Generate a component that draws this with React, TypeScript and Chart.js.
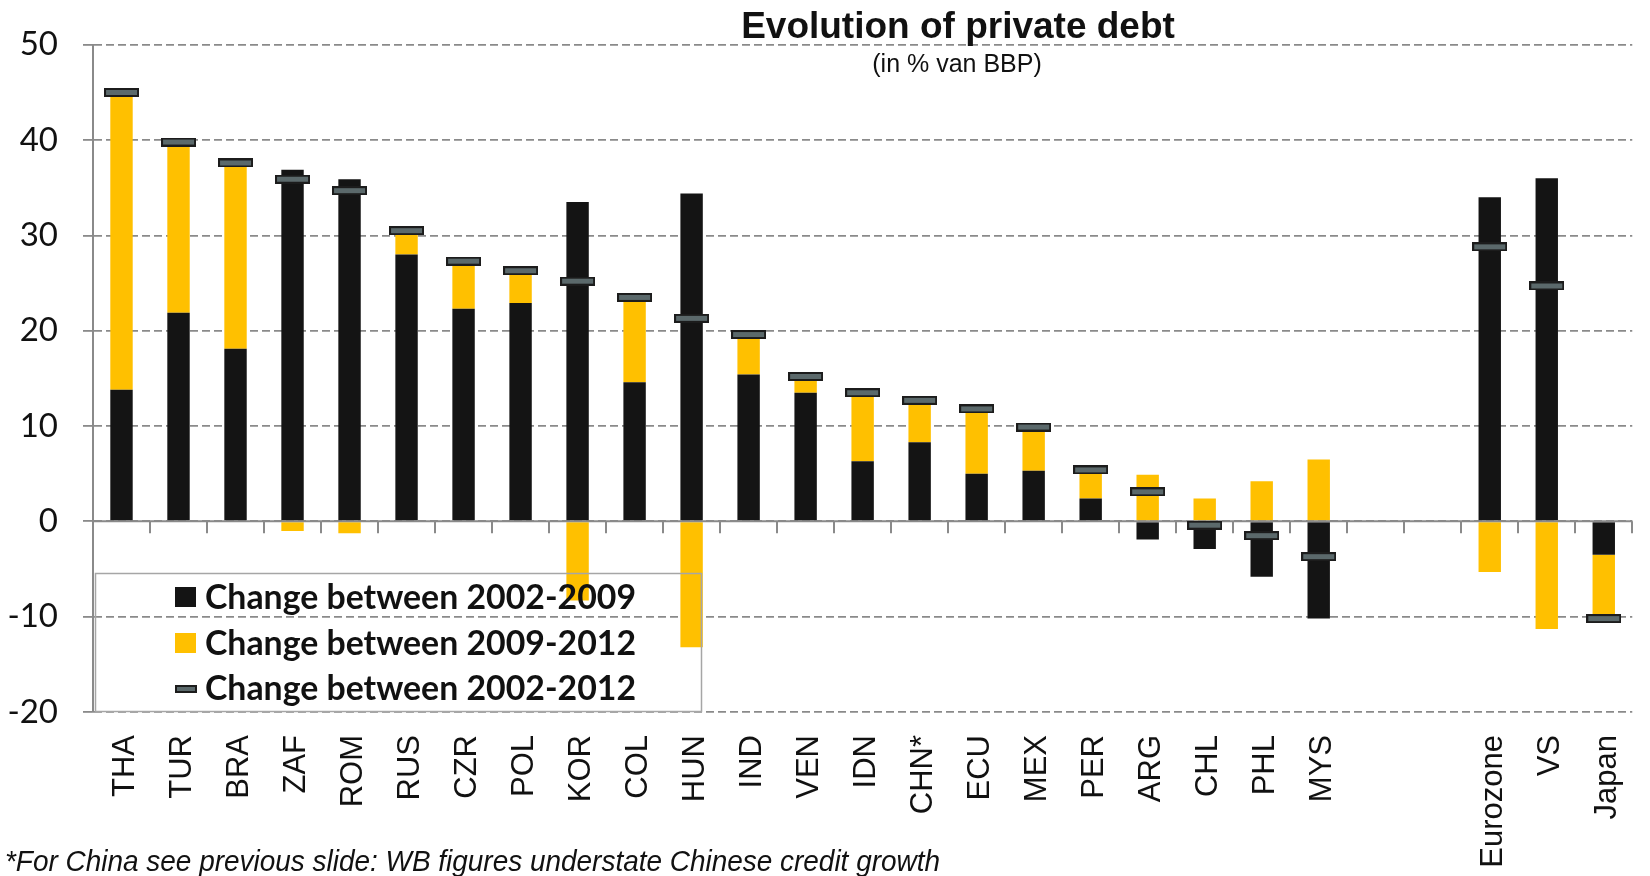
import React, { useEffect, useRef } from 'react';
import { Chart, registerables } from 'chart.js';

Chart.register(...registerables);

// ---------- data ----------
const categories = [
  'THA', 'TUR', 'BRA', 'ZAF', 'ROM', 'RUS', 'CZR', 'POL', 'KOR', 'COL', 'HUN',
  'IND', 'VEN', 'IDN', 'CHN*', 'ECU', 'MEX', 'PER', 'ARG', 'CHL', 'PHL', 'MYS',
  '', ' ', 'Eurozone', 'VS', 'Japan',
];

const change2002to2009 = [
  13.8, 21.9, 18.1, 36.9, 35.9, 28.0, 22.3, 22.9, 33.5, 14.6, 34.4,
  15.4, 13.5, 6.3, 8.3, 5.0, 5.3, 2.4, -1.9, -2.9, -5.8, -10.2,
  null, null, 34.0, 36.0, -3.5,
];

const change2009to2012 = [
  31.0, 17.9, 19.5, -1.0, -1.25, 2.5, 5.0, 3.4, -8.3, 8.9, -13.2,
  4.2, 1.7, 7.2, 4.4, 6.8, 4.6, 3.0, 4.9, 2.4, 4.2, 6.5,
  null, null, -5.3, -11.3, -6.6,
];

const change2002to2012 = [
  45.0, 39.8, 37.6, 35.9, 34.7, 30.5, 27.3, 26.3, 25.2, 23.5, 21.3,
  19.6, 15.2, 13.5, 12.7, 11.8, 9.9, 5.4, 3.1, -0.4, -1.5, -3.7,
  null, null, 28.8, 24.7, -10.2,
];

const yMin = -20;
const yMax = 50;
const yStep = 10;

const seriesLabels = [
  'Change between 2002-2009',
  'Change between 2009-2012',
  'Change between 2002-2012',
];

const titleText = 'Evolution of private debt';
const subtitleText = '(in % van BBP)';
const footnoteText = '*For China see previous slide: WB figures understate Chinese credit growth';

// ---------- styles ----------
const BLACK = '#141414';
const YELLOW = '#FFC000';
const MARK_FILL = '#5b696b';
const MARK_EDGE = '#1c1c1c';
const GRID = '#8a8a8a';
const TEXT = '#111111';
const SANS = '"Liberation Sans", Arial, sans-serif';
const CAL = 'Lato, "Liberation Sans", sans-serif';

function makeMarker(w: number, h: number): HTMLCanvasElement {
  const c = document.createElement('canvas');
  c.width = w;
  c.height = h;
  const g = c.getContext('2d')!;
  g.fillStyle = MARK_EDGE;
  g.fillRect(0, 0, w, h);
  g.fillStyle = MARK_FILL;
  g.fillRect(2, 2, w - 4, h - 4);
  return c;
}

const decorPlugin = {
  id: 'decor',
  beforeDatasetDraw(chart: any, args: any) {
    if (args.meta.type !== 'line') return;
    const { ctx, chartArea, scales } = chart;
    const x = scales.x;
    const y0 = scales.y.getPixelForValue(0);
    const half = (x.getPixelForValue(1) - x.getPixelForValue(0)) / 2;
    ctx.save();
    ctx.strokeStyle = GRID;
    ctx.lineWidth = 2;
    ctx.beginPath();
    ctx.moveTo(chartArea.left, y0);
    ctx.lineTo(chartArea.right, y0);
    for (let i = 0; i <= categories.length; i++) {
      const px = Math.round(x.getPixelForValue(0) - half + i * 2 * half);
      ctx.moveTo(px, y0);
      ctx.lineTo(px, y0 + 12);
    }
    ctx.stroke();
    ctx.restore();
  },
  afterDraw(chart: any) {
    const { ctx } = chart;
    ctx.save();
    // title + subtitle
    ctx.fillStyle = TEXT;
    ctx.textAlign = 'center';
    ctx.textBaseline = 'alphabetic';
    ctx.font = `bold 37px ${SANS}`;
    ctx.fillText(titleText, 958, 38);
    ctx.font = `25px ${SANS}`;
    ctx.fillText(subtitleText, 957, 72);

    // legend box
    ctx.strokeStyle = '#a6a6a6';
    ctx.lineWidth = 1.5;
    ctx.strokeRect(95.5, 573.5, 606, 138);
    const baselines = [608.5, 655, 700];
    ctx.fillStyle = BLACK;
    ctx.fillRect(175, 587, 21, 20);
    ctx.fillStyle = YELLOW;
    ctx.fillRect(175, 633, 21, 20);
    const mk = makeMarker(22, 8);
    ctx.drawImage(mk, 175, 685);
    ctx.fillStyle = TEXT;
    ctx.textAlign = 'left';
    ctx.font = `bold 34px ${CAL}`;
    seriesLabels.forEach((t, i) => {
      ctx.fillText(t, 205, baselines[i], 431);
    });

    // footnote
    ctx.font = `italic 30px ${SANS}`;
    ctx.fillStyle = TEXT;
    ctx.fillText(footnoteText, 5, 871, 935);
    ctx.restore();
  },
};

export default function App() {
  const ref = useRef<HTMLCanvasElement | null>(null);

  useEffect(() => {
    if (!ref.current) return;
    const marker = makeMarker(35, 9);
    const chart = new Chart(ref.current, {
      type: 'bar',
      data: {
        labels: categories,
        datasets: [
          {
            type: 'line',
            label: seriesLabels[2],
            data: change2002to2012,
            showLine: false,
            pointStyle: marker as any,
            pointRadius: 6,
            stack: 'total',
            order: 0,
          } as any,
          {
            label: seriesLabels[0],
            data: change2002to2009,
            backgroundColor: BLACK,
            stack: 'changes',
            order: 1,
            barPercentage: 0.393,
            categoryPercentage: 1,
          },
          {
            label: seriesLabels[1],
            data: change2009to2012,
            backgroundColor: YELLOW,
            stack: 'changes',
            order: 2,
            barPercentage: 0.393,
            categoryPercentage: 1,
          },
        ],
      },
      options: {
        animation: false,
        responsive: false,
        maintainAspectRatio: false,
        layout: {
          autoPadding: false,
          padding: { top: 42, right: 2, left: 0, bottom: 0 },
        },
        plugins: {
          legend: { display: false },
          title: { display: false },
          tooltip: { enabled: false },
        },
        scales: {
          x: {
            stacked: true,
            grid: { display: false },
            border: { display: false },
            ticks: {
              autoSkip: false,
              maxRotation: 90,
              minRotation: 90,
              padding: 15,
              labelOffset: 4,
              color: TEXT,
              font: { family: SANS, size: 31 },
            },
            afterFit: (s: any) => {
              s.height = 164;
            },
          },
          y: {
            stacked: true,
            min: yMin,
            max: yMax,
            ticks: {
              stepSize: yStep,
              padding: 25,
              color: TEXT,
              font: { family: CAL, size: 33 },
            },
            grid: {
              color: GRID,
              lineWidth: 1.8,
              tickLength: 10,
              drawTicks: true,
            },
            border: { display: true, color: GRID, width: 2, dash: [8, 4] },
            afterFit: (s: any) => {
              s.width = 93;
            },
          },
        },
      },
      plugins: [decorPlugin],
    });
    return () => chart.destroy();
  }, []);

  return (
    <div
      style={{
        position: 'fixed',
        left: 0,
        top: 0,
        width: 1650,
        height: 876,
        overflow: 'hidden',
        background: '#fff',
      }}
    >
      <canvas ref={ref} width={1656} height={876} style={{ display: 'block' }} />
    </div>
  );
}
